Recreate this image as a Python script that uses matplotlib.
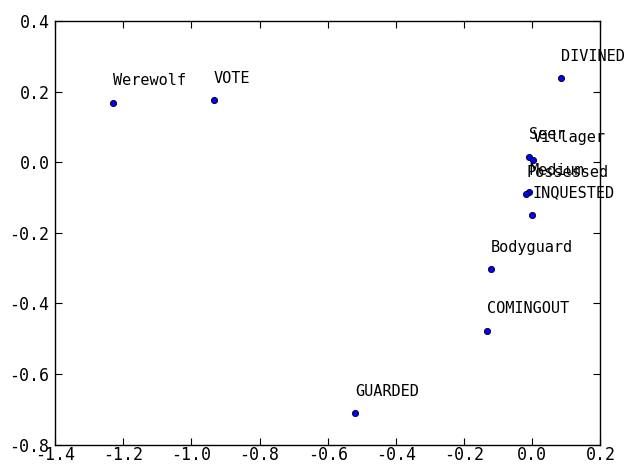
import matplotlib
matplotlib.use("Agg")
import matplotlib.pyplot as plt

plt.rcParams['font.family'] = ['DejaVu Sans Mono']
plt.rcParams['axes.unicode_minus'] = False

labels = ['Werewolf', 'VOTE', 'DIVINED', 'Seer', 'Villager', 'Medium',
          'Possessed', 'INQUESTED', 'Bodyguard', 'COMINGOUT', 'GUARDED']
xs = [-1.231, -0.934, 0.084, -0.009, 0.001, -0.010,
      -0.018, 0.000, -0.121, -0.133, -0.520]
ys = [0.168, 0.175, 0.238, 0.015, 0.006, -0.085,
      -0.091, -0.149, -0.304, -0.478, -0.712]

fig = plt.figure(figsize=(6.41, 4.66), dpi=100)
ax = fig.add_axes([0.0858, 0.0461, 0.8510, 0.9089])

ax.scatter(xs, ys, s=20, c='b', edgecolors='k', linewidths=0.6, zorder=3)
for name, x, y in zip(labels, xs, ys):
    ax.annotate(name, xy=(x, y), xytext=(x, y + 0.05), fontsize=11, zorder=2)

ax.set_xlim(-1.4, 0.2)
ax.set_ylim(-0.8, 0.4)
ax.set_xticks([-1.4, -1.2, -1.0, -0.8, -0.6, -0.4, -0.2, 0.0, 0.2])
ax.set_yticks([-0.8, -0.6, -0.4, -0.2, 0.0, 0.2, 0.4])
ax.tick_params(direction='in', top=True, right=True, length=5, labelsize=12)
ax.tick_params(axis='x', pad=1)
ax.tick_params(axis='y', pad=4)
for sp in ax.spines.values():
    sp.set_linewidth(1.0)

fig.savefig("out.png", dpi=100)
